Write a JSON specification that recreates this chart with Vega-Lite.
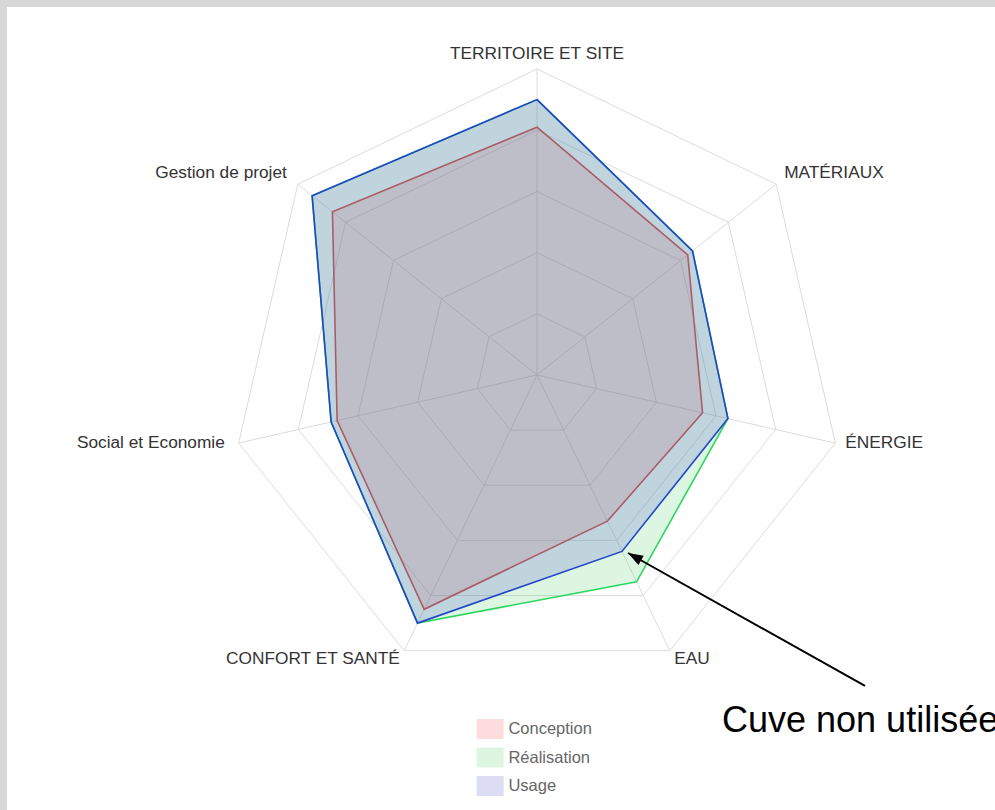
{
  "$schema": "https://vega.github.io/schema/vega-lite/v6.json",
  "width": 988,
  "height": 803,
  "autosize": {"type": "none"},
  "padding": {"left": 7, "top": 7, "right": 0, "bottom": 0},
  "background": "#d8d8d8",
  "config": {"view": {"stroke": null, "fill": "#ffffff"}},
  "datasets": {
    "scores": [
      {"axe": "TERRITOIRE ET SITE", "k": 0, "serie": "Conception", "v": 81},
      {"axe": "MATÉRIAUX", "k": 1, "serie": "Conception", "v": 63},
      {"axe": "ÉNERGIE", "k": 2, "serie": "Conception", "v": 55.5},
      {"axe": "EAU", "k": 3, "serie": "Conception", "v": 53},
      {"axe": "CONFORT ET SANTÉ", "k": 4, "serie": "Conception", "v": 85},
      {"axe": "Social et Economie", "k": 5, "serie": "Conception", "v": 67},
      {"axe": "Gestion de projet", "k": 6, "serie": "Conception", "v": 85.5},
      {"axe": "TERRITOIRE ET SITE", "k": 0, "serie": "Réalisation", "v": 90},
      {"axe": "MATÉRIAUX", "k": 1, "serie": "Réalisation", "v": 65},
      {"axe": "ÉNERGIE", "k": 2, "serie": "Réalisation", "v": 64},
      {"axe": "EAU", "k": 3, "serie": "Réalisation", "v": 75},
      {"axe": "CONFORT ET SANTÉ", "k": 4, "serie": "Réalisation", "v": 90},
      {"axe": "Social et Economie", "k": 5, "serie": "Réalisation", "v": 69},
      {"axe": "Gestion de projet", "k": 6, "serie": "Réalisation", "v": 94},
      {"axe": "TERRITOIRE ET SITE", "k": 0, "serie": "Usage", "v": 90},
      {"axe": "MATÉRIAUX", "k": 1, "serie": "Usage", "v": 65},
      {"axe": "ÉNERGIE", "k": 2, "serie": "Usage", "v": 64},
      {"axe": "EAU", "k": 3, "serie": "Usage", "v": 64},
      {"axe": "CONFORT ET SANTÉ", "k": 4, "serie": "Usage", "v": 90},
      {"axe": "Social et Economie", "k": 5, "serie": "Usage", "v": 69},
      {"axe": "Gestion de projet", "k": 6, "serie": "Usage", "v": 94}
    ],
    "axes": [
      {"axe": "TERRITOIRE ET SITE", "k": 0},
      {"axe": "MATÉRIAUX", "k": 1},
      {"axe": "ÉNERGIE", "k": 2},
      {"axe": "EAU", "k": 3},
      {"axe": "CONFORT ET SANTÉ", "k": 4},
      {"axe": "Social et Economie", "k": 5},
      {"axe": "Gestion de projet", "k": 6}
    ],
    "rings": [
      {"k": 0, "r": [20, 40, 60, 80, 100]},
      {"k": 1, "r": [20, 40, 60, 80, 100]},
      {"k": 2, "r": [20, 40, 60, 80, 100]},
      {"k": 3, "r": [20, 40, 60, 80, 100]},
      {"k": 4, "r": [20, 40, 60, 80, 100]},
      {"k": 5, "r": [20, 40, 60, 80, 100]},
      {"k": 6, "r": [20, 40, 60, 80, 100]}
    ],
    "annotation": [
      {"label": "Cuve non utilisée", "serie": "Usage", "axe": "EAU"}
    ]
  },
  "layer": [
    {
      "data": {"name": "rings"},
      "transform": [
        {"flatten": ["r"]},
        {"calculate": "2*PI*datum.k/7", "as": "a"},
        {"calculate": "datum.r/100*sin(datum.a)", "as": "px"},
        {"calculate": "datum.r/100*cos(datum.a)", "as": "py"}
      ],
      "mark": {"type": "line", "interpolate": "linear-closed", "stroke": "#dcdcdc", "strokeWidth": 1},
      "encoding": {
        "x": {"field": "px", "type": "quantitative", "scale": {"domain": [-1.73203, 1.49673], "nice": false, "zero": false}, "axis": null},
        "y": {"field": "py", "type": "quantitative", "scale": {"domain": [-1.42157, 1.20261], "nice": false, "zero": false}, "axis": null},
        "detail": {"field": "r", "type": "nominal"},
        "order": {"field": "k", "type": "quantitative"}
      }
    },
    {
      "data": {"name": "axes"},
      "transform": [
        {"calculate": "2*PI*datum.k/7", "as": "a"},
        {"calculate": "sin(datum.a)", "as": "sx"},
        {"calculate": "cos(datum.a)", "as": "sy"}
      ],
      "mark": {"type": "rule", "stroke": "#dcdcdc", "strokeWidth": 1},
      "encoding": {
        "x": {"field": "sx", "type": "quantitative", "scale": {"domain": [-1.73203, 1.49673], "nice": false, "zero": false}, "axis": null},
        "y": {"field": "sy", "type": "quantitative", "scale": {"domain": [-1.42157, 1.20261], "nice": false, "zero": false}, "axis": null},
        "x2": {"datum": 0},
        "y2": {"datum": 0}
      }
    },
    {
      "data": {"name": "scores"},
      "transform": [
        {"filter": "datum.serie == 'Conception'"},
        {"calculate": "2*PI*datum.k/7", "as": "a"},
        {"calculate": "datum.v/100*sin(datum.a)", "as": "px"},
        {"calculate": "datum.v/100*cos(datum.a)", "as": "py"}
      ],
      "mark": {"type": "line", "interpolate": "linear-closed", "strokeWidth": 1.6},
      "encoding": {
        "x": {"field": "px", "type": "quantitative", "scale": {"domain": [-1.73203, 1.49673], "nice": false, "zero": false}, "axis": null},
        "y": {"field": "py", "type": "quantitative", "scale": {"domain": [-1.42157, 1.20261], "nice": false, "zero": false}, "axis": null},
        "order": {"field": "k", "type": "quantitative"},
        "fill": {"field": "serie", "type": "nominal",
          "scale": {"domain": ["Conception", "Réalisation", "Usage"], "range": ["rgba(240,80,90,0.2)", "rgba(80,210,110,0.2)", "rgba(80,80,205,0.2)"]},
          "legend": {"orient": "none", "legendX": 469.7, "legendY": 708.5, "title": null, "padding": 0,
            "symbolType": "M-1,-0.74L1,-0.74L1,0.74L-1,0.74Z", "symbolSize": 729, "symbolStrokeWidth": 0, "symbolStrokeColor": "transparent",
            "labelFont": "Liberation Sans", "labelFontSize": 16.5, "labelColor": "#666666", "labelOffset": 4.7, "rowPadding": 4.5}},
        "stroke": {"field": "serie", "type": "nominal",
          "scale": {"domain": ["Conception", "Réalisation", "Usage"], "range": ["rgb(222,68,74)", "rgb(45,215,95)", "rgb(35,70,200)"]},
          "legend": null}
      }
    },
    {
      "data": {"name": "scores"},
      "transform": [
        {"filter": "datum.serie == 'Réalisation'"},
        {"calculate": "2*PI*datum.k/7", "as": "a"},
        {"calculate": "datum.v/100*sin(datum.a)", "as": "px"},
        {"calculate": "datum.v/100*cos(datum.a)", "as": "py"}
      ],
      "mark": {"type": "line", "interpolate": "linear-closed", "strokeWidth": 1.6},
      "encoding": {
        "x": {"field": "px", "type": "quantitative", "scale": {"domain": [-1.73203, 1.49673], "nice": false, "zero": false}, "axis": null},
        "y": {"field": "py", "type": "quantitative", "scale": {"domain": [-1.42157, 1.20261], "nice": false, "zero": false}, "axis": null},
        "order": {"field": "k", "type": "quantitative"},
        "fill": {"field": "serie", "type": "nominal"},
        "stroke": {"field": "serie", "type": "nominal", "legend": null}
      }
    },
    {
      "data": {"name": "scores"},
      "transform": [
        {"filter": "datum.serie == 'Usage'"},
        {"calculate": "2*PI*datum.k/7", "as": "a"},
        {"calculate": "datum.v/100*sin(datum.a)", "as": "px"},
        {"calculate": "datum.v/100*cos(datum.a)", "as": "py"}
      ],
      "mark": {"type": "line", "interpolate": "linear-closed", "strokeWidth": 1.6},
      "encoding": {
        "x": {"field": "px", "type": "quantitative", "scale": {"domain": [-1.73203, 1.49673], "nice": false, "zero": false}, "axis": null},
        "y": {"field": "py", "type": "quantitative", "scale": {"domain": [-1.42157, 1.20261], "nice": false, "zero": false}, "axis": null},
        "order": {"field": "k", "type": "quantitative"},
        "fill": {"field": "serie", "type": "nominal"},
        "stroke": {"field": "serie", "type": "nominal", "legend": null}
      }
    },
    {
      "data": {"name": "axes"},
      "transform": [
        {"calculate": "2*PI*datum.k/7", "as": "a"},
        {"calculate": "1.033*sin(datum.a)", "as": "lx"},
        {"calculate": "1.033*cos(datum.a)", "as": "ly"}
      ],
      "mark": {"type": "text", "font": "Liberation Sans", "fontSize": 17.3, "color": "#333333", "baseline": "alphabetic",
        "align": {"expr": "datum.k == 0 ? 'center' : (datum.k < 3.5 ? 'left' : 'right')"},
        "dx": {"expr": "datum.k == 6 ? -3 : (datum.k == 5 ? -4 : 0)"},
        "dy": {"expr": "(datum.k == 2 || datum.k == 5) ? 2.5 : ((datum.k == 3 || datum.k == 4) ? 4 : 0)"}},
      "encoding": {
        "x": {"field": "lx", "type": "quantitative", "scale": {"domain": [-1.73203, 1.49673], "nice": false, "zero": false}, "axis": null},
        "y": {"field": "ly", "type": "quantitative", "scale": {"domain": [-1.42157, 1.20261], "nice": false, "zero": false}, "axis": null},
        "text": {"field": "axe", "type": "nominal"}
      }
    },
    {
      "data": {"name": "annotation"},
      "mark": {"type": "rule", "stroke": "#000000", "strokeWidth": 2},
      "encoding": {
        "x": {"datum": 1.0719, "type": "quantitative", "scale": {"domain": [-1.73203, 1.49673], "nice": false, "zero": false}, "axis": null},
        "y": {"datum": -1.0163, "type": "quantitative", "scale": {"domain": [-1.42157, 1.20261], "nice": false, "zero": false}, "axis": null},
        "x2": {"datum": 0.2974},
        "y2": {"datum": -0.5817}
      }
    },
    {
      "data": {"name": "annotation"},
      "mark": {"type": "point", "shape": "M0,0L0.36,1L-0.36,1Z", "size": 900, "filled": true, "color": "#000000", "opacity": 1, "angle": 299.3},
      "encoding": {
        "x": {"datum": 0.2974, "type": "quantitative", "scale": {"domain": [-1.73203, 1.49673], "nice": false, "zero": false}, "axis": null},
        "y": {"datum": -0.5817, "type": "quantitative", "scale": {"domain": [-1.42157, 1.20261], "nice": false, "zero": false}, "axis": null}
      }
    },
    {
      "data": {"name": "annotation"},
      "mark": {"type": "text", "font": "Liberation Sans", "fontSize": 36, "color": "#000000", "align": "left", "baseline": "alphabetic"},
      "encoding": {
        "x": {"datum": 0.6046, "type": "quantitative", "scale": {"domain": [-1.73203, 1.49673], "nice": false, "zero": false}, "axis": null},
        "y": {"datum": -1.1667, "type": "quantitative", "scale": {"domain": [-1.42157, 1.20261], "nice": false, "zero": false}, "axis": null},
        "text": {"field": "label", "type": "nominal"}
      }
    }
  ]
}
